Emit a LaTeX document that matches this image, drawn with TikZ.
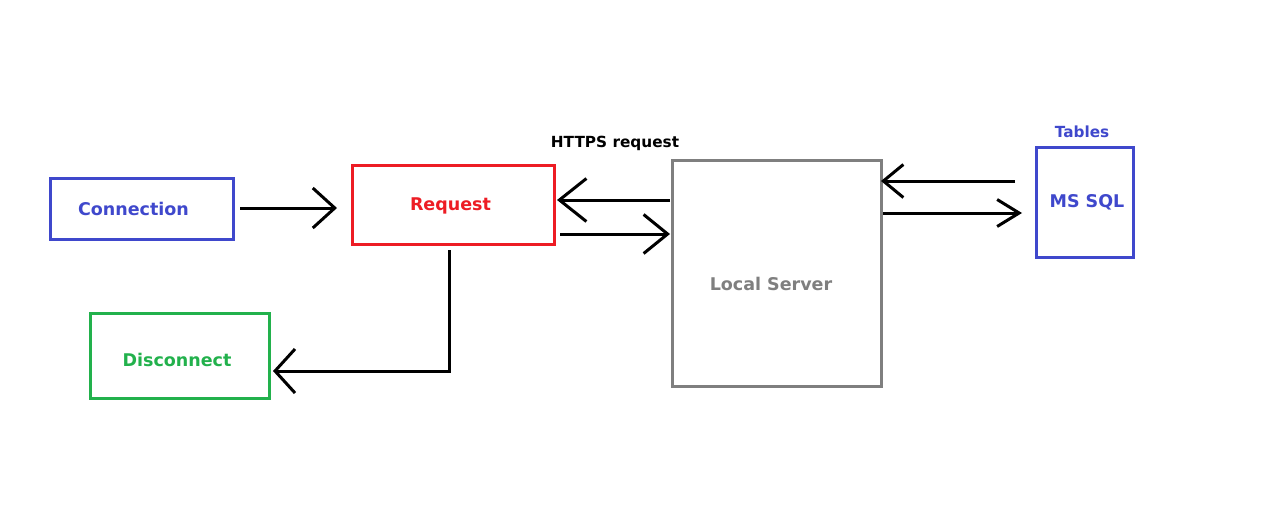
\documentclass[tikz,border=0pt]{standalone}
\usepackage{fontspec}
\setmainfont{DejaVu Sans}
\usetikzlibrary{arrows.meta,calc}
\definecolor{cblue}{HTML}{3F48CC}
\definecolor{cred}{HTML}{ED1C24}
\definecolor{cgreen}{HTML}{22B14C}
\definecolor{cgray}{HTML}{7F7F7F}
\begin{document}
\begin{tikzpicture}[x=1pt,y=-1pt,
  box/.style={draw,line width=3pt,inner sep=0pt,fill=white},
  btxt/.style={font=\fontsize{17.5}{20}\selectfont\bfseries,inner sep=0pt},
  arr/.style={line width=3pt,black,
    -{Straight Barb[length=22pt,width=40pt,line width=3pt]}},
  lbl/.style={font=\fontsize{15.3}{18}\selectfont\bfseries}]
\useasboundingbox[fill=white] (0,0) rectangle (1261,512);
\node[box,draw=cblue,minimum width=183pt,minimum height=61pt,
  label={[btxt,text=cblue,xshift=-8.5pt]center:Connection}] (conn) at (142,209) {};
\node[box,draw=cred,minimum width=202pt,minimum height=79pt,
  label={[btxt,text=cred,xshift=-3pt,yshift=-1pt]center:Request}] (req) at (453.5,205) {};
\node[box,draw=cgray,minimum width=209pt,minimum height=226pt,
  label={[btxt,text=cgray,xshift=-6pt,yshift=-10.5pt]center:Local Server}] (srv) at (777,273.5) {};
\node[box,draw=cblue,minimum width=97pt,minimum height=110pt,
  label={[btxt,text=cblue,xshift=2pt]center:MS SQL},
  label={[lbl,text=cblue,xshift=-3pt,label distance=5pt]above:Tables}] (sql) at (1085,202.5) {};
\node[box,draw=cgreen,minimum width=179pt,minimum height=85pt,
  label={[btxt,text=cgreen,xshift=-3pt,yshift=-4pt]center:Disconnect}] (disc) at (180,356) {};
\node[lbl,text=black] (https) at (615,143) {HTTPS request};
% connectors
\draw[arr] ($(conn.east)+(5,-1)$) -- ($(req.west)+(-14,3)$);
\draw[arr,-{Straight Barb[length=27pt,width=43pt,line width=3pt]}] ($(req.east -| srv.west)+(-1,-5)$) -- ($(req.east)+(1,-5)$);
\draw[arr,-{Straight Barb[length=24pt,width=39pt,line width=3pt]}] ($(req.east)+(4,29)$) -- ($(req.east -| srv.west)+(-1,29)$);
\draw[arr,-{Straight Barb[length=20pt,width=33pt,line width=3pt]}] ($(sql.west)+(-20,-21.5)$) -- ($(srv.east |- sql.west)+(-2,-21.5)$);
\draw[arr,-{Straight Barb[length=22pt,width=27pt,line width=3pt]}] ($(srv.east |- sql.west)+(0,10.5)$) -- ($(sql.west)+(-13,10.5)$);
\draw[arr,-{Straight Barb[length=20pt,width=44pt,line width=3pt]}] ($(req.south)+(-4.5,4)$) |- ($(disc.east)+(2,15)$);
\end{tikzpicture}
\end{document}
